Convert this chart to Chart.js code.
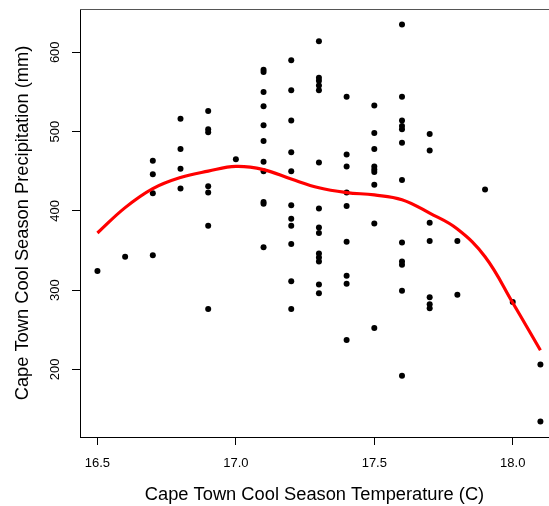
<!DOCTYPE html>
<html>
<head>
<meta charset="utf-8">
<script src="https://cdn.jsdelivr.net/npm/chart.js@4/dist/chart.umd.min.js"></script>
<style>
  html, body { margin: 0; padding: 0; background: #fff; }
  #wrap { width: 549px; height: 506px; }
</style>
</head>
<body>
<div id="wrap"><canvas id="myChart"></canvas></div>
<script>
// temperature columns (C) and the precipitation readings at each one (mm)
const temps = [16.5, 16.6, 16.7, 16.8, 16.9, 17.0, 17.1, 17.2, 17.3, 17.4, 17.5, 17.6, 17.7, 17.8, 17.9, 18.0, 18.1]
const precip = [
  [324],
  [342],
  [463, 446, 422, 344],
  [516, 478, 453, 428],
  [526, 503, 499, 431, 423, 381, 276],
  [465],
  [578, 575, 550, 532, 508, 488, 462, 450, 411, 409, 354],
  [590, 552, 514, 474, 450, 407, 390, 381, 358, 311, 276],
  [614, 568, 564, 558, 552, 461, 403, 379, 372, 346, 341, 336, 307, 296],
  [544, 471, 456, 423, 406, 361, 318, 308, 237],
  [533, 498, 478, 456, 452, 449, 433, 384, 252],
  [635, 544, 514, 507, 503, 486, 439, 360, 336, 332, 299, 192],
  [497, 476, 385, 362, 291, 282, 277],
  [362, 294],
  [427],
  [285],
  [206, 134]
]

// smoothed fit (red line)
const curveTemps = [16.5, 16.6, 16.7, 16.8, 16.9, 17.0, 17.1, 17.2, 17.3, 17.4, 17.5, 17.6, 17.7, 17.8, 17.9, 18.0, 18.1]
const curvePrecip = [372, 404, 428, 442, 450, 456, 452, 440, 429, 423, 420, 414, 397, 377, 342, 284, 224]

const xTicks = [16.5, 17.0, 17.5, 18.0]
const yTicks = [200, 300, 400, 500, 600]

const points = []
temps.forEach((t, i) => {
  precip[i].forEach(v => points.push({x: t, y: v}))
})
const curve = curveTemps.map((t, i) => ({x: t, y: curvePrecip[i]}))

const font = "'Liberation Sans', Arial, sans-serif"

// top edge of the box + rotated y labels (R style)
const boxAndLabels = {
  id: 'boxAndLabels',
  afterDraw(chart) {
    const c = chart.ctx
    const a = chart.chartArea
    const yScale = chart.scales.y
    c.save()
    c.strokeStyle = '#555'
    c.lineWidth = 1
    c.beginPath()
    c.moveTo(a.left, a.top + 0.5)
    c.lineTo(a.right, a.top + 0.5)
    c.stroke()
    c.fillStyle = '#000'
    c.font = '13px ' + font
    c.textAlign = 'center'
    c.textBaseline = 'middle'
    yTicks.forEach(v => {
      const py = yScale.getPixelForValue(v)
      c.save()
      c.translate(55, py)
      c.rotate(-Math.PI / 2)
      c.fillText(String(v), 0, 0)
      c.restore()
    })
    c.restore()
  }
}

const ctx = document.getElementById('myChart')
new Chart(ctx, {
  type: 'scatter',
  data: {
    datasets: [
      {
        data: curve,
        showLine: true,
        borderColor: '#ff0000',
        borderWidth: 3.2,
        pointRadius: 0,
        tension: 0.4,
        fill: false
      },
      {
        data: points,
        backgroundColor: '#000',
        borderColor: '#000',
        pointRadius: 3,
        borderWidth: 0
      }
    ]
  },
  options: {
    responsive: true,
    maintainAspectRatio: false,
    animation: false,
    layout: { autoPadding: false, padding: { top: 9, right: 0, left: 0, bottom: 0 } },
    plugins: { legend: { display: false }, tooltip: { enabled: false } },
    scales: {
      x: {
        type: 'linear',
        min: 16.437,
        max: 18.131,
        afterFit: s => { s.height = 69 },
        afterBuildTicks: s => { s.ticks = xTicks.map(v => ({value: v})) },
        border: { color: '#000', width: 1 },
        grid: { drawOnChartArea: false, drawTicks: true, tickLength: 8, tickColor: '#000' },
        ticks: {
          color: '#000',
          font: { family: font, size: 13 },
          padding: 11,
          maxRotation: 0,
          callback: v => Number(v).toFixed(1)
        },
        title: {
          display: true,
          text: 'Cape Town Cool Season Temperature (C)',
          color: '#000',
          font: { family: font, size: 18.3 },
          padding: { top: 0, bottom: 0 }
        }
      },
      y: {
        type: 'linear',
        min: 114.6,
        max: 654.6,
        afterFit: s => { s.width = 80 },
        afterBuildTicks: s => { s.ticks = yTicks.map(v => ({value: v})) },
        border: { color: '#000', width: 1 },
        grid: { drawOnChartArea: false, drawTicks: true, tickLength: 8, tickColor: '#000' },
        ticks: { display: false },
        title: {
          display: true,
          text: 'Cape Town Cool Season Precipitation (mm)',
          color: '#000',
          font: { family: font, size: 18.3 },
          padding: { top: 11.5, bottom: 0 }
        }
      }
    }
  },
  plugins: [boxAndLabels]
})
</script>
</body>
</html>
